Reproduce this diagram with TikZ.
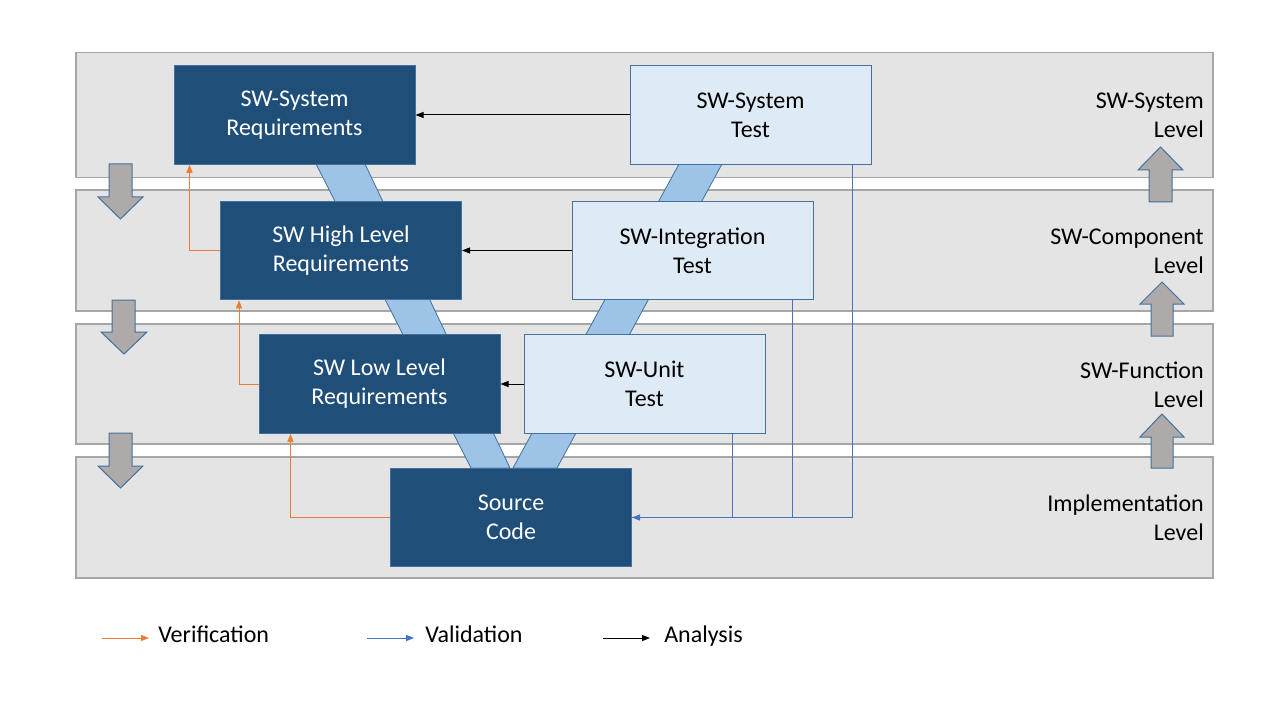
\documentclass[tikz,border=0pt]{standalone}
\usepackage{fontspec}
\setmainfont{Carlito}
\usetikzlibrary{arrows.meta}
\definecolor{bandfill}{HTML}{E4E4E4}
\definecolor{bandline}{HTML}{A6A6A6}
\definecolor{darkbox}{HTML}{1F4E79}
\definecolor{boxline}{HTML}{41719C}
\definecolor{lightbox}{HTML}{DEEBF7}
\definecolor{stripc}{HTML}{9DC3E6}
\definecolor{grayarrow}{HTML}{AEAAAA}
\definecolor{orangec}{HTML}{ED7D31}
\definecolor{bluec}{HTML}{4472C4}
\begin{document}
\begin{tikzpicture}[x=0.75pt,y=-0.75pt,
  band/.style={fill=bandfill,draw=bandline,line width=0.9pt},
  stripst/.style={fill=stripc,draw=boxline,line width=0.6pt},
  blockarrow/.style={fill=grayarrow,draw=boxline,line width=0.75pt,line join=miter},
  reqbox/.style={draw=boxline,fill=darkbox,text=white,line width=0.75pt,
    minimum width=180.75pt,minimum height=73.9pt,inner sep=0pt,align=center,
    font=\fontsize{18}{21.75}\selectfont},
  testbox/.style={reqbox,fill=lightbox,text=black},
  lvl/.style={anchor=east,align=right,inner sep=0pt,font=\fontsize{18}{21.75}\selectfont},
  legtext/.style={anchor=base west,inner sep=0pt,font=\fontsize{18}{21.75}\selectfont},
  tip/.style={-{Triangle[length=6pt,width=4.5pt]}},
  ver/.style={draw=orangec,line width=0.75pt},
  val/.style={draw=bluec,line width=0.75pt},
  ana/.style={draw=black,line width=0.75pt},
]
\useasboundingbox (0,0) rectangle (1280,720);
\fill[white] (0,0) rectangle (1280,720);

% level bands
\draw[band] (76,52.5) rectangle (1213,177.5);
\draw[band] (76,190) rectangle (1213,311);
\draw[band] (76,324) rectangle (1213,444);
\draw[band] (76,457) rectangle (1213,578);

% V strips
\draw[stripst] (316,164) -- (365,164) -- (510,468) -- (471,468) -- cycle;
\draw[stripst] (679,164) -- (722,164) -- (557,468) -- (513,468) -- cycle;

% left down arrows
\draw[blockarrow] (109,164) -- (132,164) -- (132,197) -- (143,197) -- (120.5,219) -- (98,197) -- (109,197) -- cycle;
\draw[blockarrow] (112,300) -- (135,300) -- (135,332) -- (147,332) -- (124,354) -- (101,332) -- (112,332) -- cycle;
\draw[blockarrow] (109,433) -- (132,433) -- (132,466) -- (143,466) -- (120.5,488) -- (98,466) -- (109,466) -- cycle;

% right up arrows
\draw[blockarrow] (1149,202) -- (1172,202) -- (1172,170) -- (1183,170) -- (1160.5,147) -- (1138,170) -- (1149,170) -- cycle;
\draw[blockarrow] (1151,336) -- (1173,336) -- (1173,304) -- (1184,304) -- (1162,282) -- (1140,304) -- (1151,304) -- cycle;
\draw[blockarrow] (1151,468) -- (1173,468) -- (1173,437) -- (1184,437) -- (1162,414) -- (1140,437) -- (1151,437) -- cycle;

% boxes
\node[reqbox] (sysreq) at (294.5,115) {SW-System\\Requirements};
\node[reqbox] (hlr) at (341,250.5) {SW High Level\\Requirements};
\node[reqbox] (llr) at (379.5,384) {SW Low Level\\Requirements};
\node[reqbox] (src) at (511,517.5) {Source\\Code};
\node[testbox] (systest) at (750.5,115) {SW-System\\Test};
\node[testbox] (inttest) at (692.5,250.5) {SW-Integration\\Test};
\node[testbox] (unittest) at (644.5,384) {SW-Unit\\Test};

% level labels
\node[lvl] (lv1) at (1204,115.5) {SW-System\\Level};
\node[lvl] (lv2) at (1204,251) {SW-Component\\Level};
\node[lvl] (lv3) at (1204,384.5) {SW-Function\\Level};
\node[lvl] (lv4) at (1204,517.5) {Implementation\\Level};

% analysis
\draw[ana,tip] (systest.west) -- (sysreq.east);
\draw[ana,tip] (inttest.west) -- (hlr.east);
\draw[ana,tip] (unittest.west) -- (llr.east);

% verification
\draw[ver,tip] (hlr.west) -| ([xshift=12pt]sysreq.south west);
\draw[ver,tip] (llr.west) -| ([xshift=14.25pt]hlr.south west);
\draw[ver,tip] (src.west) -| ([xshift=24pt]llr.south west);

% validation
\draw[val] ([xshift=-24.75pt]unittest.south east) |- (src.east);
\draw[val] ([xshift=-15.75pt]inttest.south east) |- (src.east);
\draw[val,tip] ([xshift=-14.25pt]systest.south east) |- (src.east);

% legend
\coordinate (l1a) at (102,638); \coordinate (l1b) at (149,638);
\coordinate (l2a) at (367,638); \coordinate (l2b) at (414,638);
\coordinate (l3a) at (603,638); \coordinate (l3b) at (650,638);
\draw[ver,tip] (l1a) -- (l1b);
\draw[val,tip] (l2a) -- (l2b);
\draw[ana,tip] (l3a) -- (l3b);
\node[legtext] (t1) at (158,642) {Verification};
\node[legtext] (t2) at (425,642) {Validation};
\node[legtext] (t3) at (664,642) {Analysis};
\end{tikzpicture}
\end{document}
